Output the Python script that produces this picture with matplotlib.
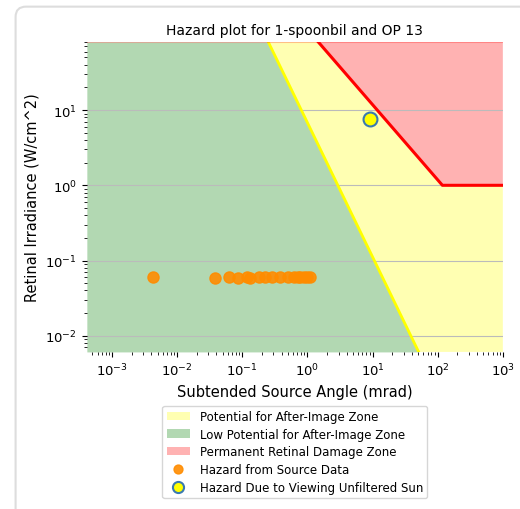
#!/usr/bin/env python3
# hazard plot - retinal irradiance vs subtended source angle

import numpy as np
import matplotlib
matplotlib.use("Agg")
import matplotlib.pyplot as plt
from matplotlib.patches import FancyBboxPatch

# axis limits
x_lim = [4.1e-4, 1e3]
y_lim = [0.0061, 80.7]

# after-image threshold line (where it crosses the frame)
afterimage_x = [0.25, 51.0]
afterimage_y = [80.7, 0.0061]

# permanent retinal damage threshold
burn_x = [1.46, 118.0, 1000.0]
burn_y = [80.7, 1.0, 1.0]

# hazard from source data
source_angle = [0.0042, 0.0384, 0.0631, 0.0859, 0.118, 0.129, 0.178, 0.226,
                0.286, 0.384, 0.498, 0.615, 0.709, 0.780, 0.899, 0.989, 1.11]
source_irr = [0.061, 0.059, 0.061, 0.059, 0.061, 0.059, 0.061, 0.060,
              0.061, 0.061, 0.060, 0.061, 0.060, 0.061, 0.060, 0.061, 0.061]

# unfiltered sun
sun_angle = [9.0]
sun_irr = [7.7]

fig = plt.figure(figsize=(5.2, 5.1), dpi=100)

# card outline behind the plot
card = FancyBboxPatch((0.03, -0.05), 1.05, 1.035, boxstyle="round,pad=0,rounding_size=0.02",
                      transform=fig.transFigure, facecolor="white", edgecolor="#dddddd",
                      linewidth=1.5, zorder=-10)
fig.patches.append(card)

ax = fig.add_axes([0.167, 0.308, 0.8, 0.608])
ax.set_xscale("log")
ax.set_yscale("log")

# zones
green_x = [x_lim[0]] + afterimage_x
green_y = [y_lim[1]] + afterimage_y
ax.fill_between(green_x, y_lim[0], green_y, color="green", alpha=0.3, lw=0,
                label="Low Potential for After-Image Zone", zorder=1)

yellow_x = afterimage_x + [x_lim[1]] + burn_x[::-1]
yellow_y = afterimage_y + [y_lim[0]] + burn_y[::-1]
ax.fill(yellow_x, yellow_y, color="yellow", alpha=0.3, lw=0,
        label="Potential for After-Image Zone", zorder=1)

red_x = burn_x + [x_lim[1]]
red_y = burn_y + [y_lim[1]]
ax.fill(red_x, red_y, color="red", alpha=0.3, lw=0,
        label="Permanent Retinal Damage Zone", zorder=1)

ax.plot(afterimage_x, afterimage_y, color="yellow", lw=2, zorder=3)
ax.plot(burn_x, burn_y, color="red", lw=2.2, zorder=3)
ax.axhline(y_lim[1], color="red", alpha=0.25, lw=1.5, zorder=3)

ax.plot(source_angle, source_irr, "o", color="darkorange", markersize=8, alpha=0.9,
        markeredgecolor="darkorange", label="Hazard from Source Data", zorder=4)
ax.plot(sun_angle, sun_irr, "o", color="yellow", markersize=10, markeredgecolor="#3a7ab0",
        markeredgewidth=1.5, label="Hazard Due to Viewing Unfiltered Sun", zorder=5)

ax.set_xlim(x_lim)
ax.set_ylim(y_lim)
ax.grid(True, axis="y", color="#bbbbbb", lw=0.8)
for s in ax.spines.values():
    s.set_visible(False)
ax.tick_params(labelsize=9.5)

ax.set_title("Hazard plot for 1-spoonbil and OP 13", fontsize=10)
ax.set_xlabel("Subtended Source Angle (mrad)", fontsize=10.5)
ax.set_ylabel("Retinal Irradiance (W/cm^2)", fontsize=10.5)

handles, labels = ax.get_legend_handles_labels()
order = ["Potential for After-Image Zone", "Low Potential for After-Image Zone",
         "Permanent Retinal Damage Zone", "Hazard from Source Data",
         "Hazard Due to Viewing Unfiltered Sun"]
hmap = dict(zip(labels, handles))
leg = ax.legend([hmap[k] for k in order], order, loc="upper center",
                bbox_to_anchor=(0.5, -0.155), fontsize=8.5, markerscale=0.8,
                labelspacing=0.4, borderpad=0.35)

fig.savefig("out.png", dpi=100)
